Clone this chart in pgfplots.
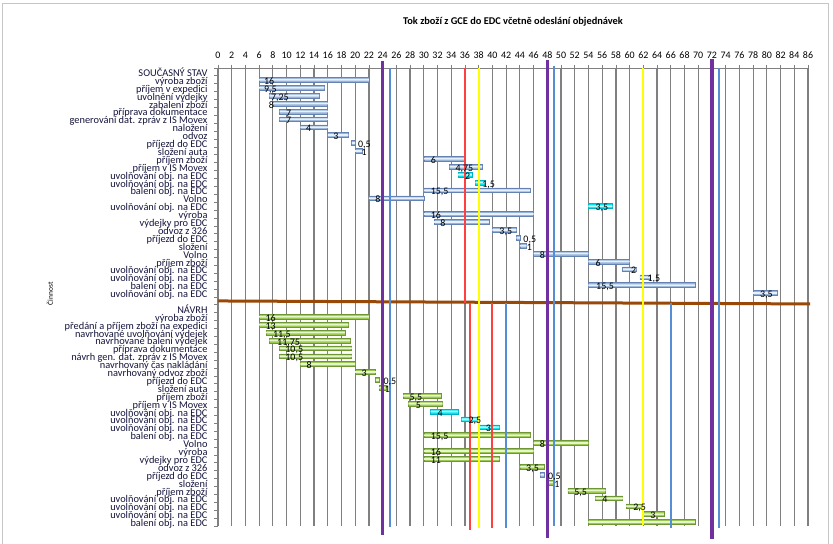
\documentclass[border=0pt]{standalone}
\usepackage{pgfplots}
\pgfplotsset{compat=1.18}
\usepackage{pgfplotstable}
\usepackage{fontspec}
\setmainfont{Carlito}

\definecolor{gridgray}{RGB}{128,128,128}
\definecolor{bEdge}{RGB}{149,179,215}
\definecolor{bMid}{RGB}{232,240,250}
\definecolor{bLine}{RGB}{100,130,180}
\definecolor{gEdge}{RGB}{155,200,80}
\definecolor{gMid}{RGB}{228,247,200}
\definecolor{gLine}{RGB}{110,150,50}
\definecolor{cEdge}{RGB}{0,228,240}
\definecolor{cMid}{RGB}{190,255,255}
\definecolor{cLine}{RGB}{0,178,200}
\definecolor{lpurple}{RGB}{112,48,160}
\definecolor{lblue}{RGB}{85,142,213}
\definecolor{lred}{RGB}{255,64,64}
\definecolor{lyellow}{RGB}{255,255,0}
\definecolor{lbrown}{RGB}{152,72,7}
\definecolor{labcol}{RGB}{20,20,60}

% blue (current state) bars: row, start, duration
\pgfplotstableread{
row start dur
2 6 16
3 6 9.5
4 7.5 7.25
5 8 8
6 9 7
7 9 7
8 12 4
9 16 3
10 19.5 0.5
11 20 1
12 30 6
13 33.75 4.75
16 30 15.5
17 22 8
19 30 16
20 31.5 8
21 40 3.5
22 43.5 0.5
23 44 1
24 46 8
25 54 6
26 59 2
27 61.5 1.5
28 54 15.5
29 78 3.5
52 47 0.5
}\bluebars

% green (proposal) bars
\pgfplotstableread{
row start dur
32 6 16
33 6 13
34 7 11.5
35 7.5 11.75
36 9 10.5
37 9 10.5
38 12 8
39 20 3
40 23 0.5
41 23.5 1
42 27 5.5
43 27.75 5
47 30 15.5
48 46 8
49 30 16
50 30 11
51 44 3.5
53 48 1
54 51 5.5
55 55 4
56 59.5 2.5
57 62 3
58 54 15.5
}\greenbars

% cyan bars
\pgfplotstableread{
row start dur
14 35 2
15 37.5 1.5
18 54 3.5
44 31 4
45 35.5 2.5
46 38 3
}\cyanbars

% duration labels
\pgfplotstableread{
row lx lab
2 6.7 16
3 6.7 9,5
4 7.7 7,25
5 7.4 8
6 9.9 7
7 9.9 7
8 12.8 4
9 16.8 3
10 20.4 0,5
11 20.9 1
12 31.0 6
13 34.6 4,75
14 36.0 2
15 38.5 1,5
16 31.0 15,5
17 22.9 8
18 55.0 3,5
19 31.0 16
20 32.4 8
21 41.0 3,5
22 44.5 0,5
23 45.0 1
24 46.9 8
25 55.0 6
26 60.2 2
27 62.6 1,5
28 55.1 15,5
29 79.0 3,5
32 6.9 16
33 6.9 13
34 8.0 11,5
35 8.6 11,75
36 9.8 10,5
37 9.8 10,5
38 12.9 8
39 20.9 3
40 24.1 0,5
41 24.3 1
42 27.9 5,5
43 28.8 5
44 32.0 4
45 36.5 2,5
46 39.0 3
47 31.0 15,5
48 46.9 8
49 31.0 16
50 31.0 11
51 44.9 3,5
52 48.1 0,5
53 49.0 1
54 51.9 5,5
55 56.0 4
56 60.5 2,5
57 63.0 3
}\labels

\pgfplotsset{gantt/.style={scale only axis, width=590bp, height=458bp,
  xmin=0, xmax=86, ymin=0.5, ymax=58.5}}

\begin{document}
\begin{tikzpicture}
\useasboundingbox (-218bp,-18bp) rectangle (615bp,526bp);
\draw[gray!45, line width=0.8bp] (-216bp,-40bp) -- (-216bp,522.7bp) -- (610bp,522.7bp) -- (610bp,-40bp);

% main axis with blue bars
\begin{axis}[gantt,
  xbar stacked, bar width=4.8bp,
  axis x line=top, axis y line=left,
  axis line style={-, draw=gridgray, line width=0.8bp},
  xtick={0,2,...,86}, minor xtick={0,2,...,86},
  ytick={1,...,58}, minor ytick={0.5,1.5,...,58.5},
  major tick length=0pt, minor tick length=3.5bp, tick align=outside,
  minor tick style={draw=gridgray, line width=0.8bp},
  xmajorgrids, major grid style={draw=gridgray, line width=1.2bp},
  /pgf/number format/assume math mode=true,
  xticklabel style={font=\fontsize{10}{11}\selectfont, yshift=6bp},
  yticklabel style={font=\fontsize{10.4}{11}\selectfont, text=labcol, inner ysep=0pt, text height=6bp, text depth=1.5bp, xshift=-7bp, yshift=-2.3bp},
  yticklabels={
    balení obj. na EDC,
    uvolňování obj. na EDC,
    uvolňování obj. na EDC,
    uvolňování obj. na EDC,
    příjem zboží,
    složení,
    příjezd do EDC,
    odvoz z 326,
    výdejky pro EDC,
    výroba,
    Volno,
    balení obj. na EDC,
    uvolňování obj. na EDC,
    uvolňování obj. na EDC,
    uvolňování obj. na EDC,
    příjem v IS Movex,
    příjem zboží,
    složení auta,
    příjezd do EDC,
    navrhovaný odvoz zboží,
    navrhovaný čas nakládání,
    návrh gen. dat. zpráv z IS Movex,
    příprava dokumentace,
    navrhované balení výdejek,
    navrhované uvolňování výdejek,
    předání a příjem zboží na expedici,
    výroba zboží,
    NÁVRH,
    {},
    uvolňování obj. na EDC,
    balení obj. na EDC,
    uvolňování obj. na EDC,
    uvolňování obj. na EDC,
    příjem zboží,
    Volno,
    složení,
    příjezd do EDC,
    odvoz z 326,
    výdejky pro EDC,
    výroba,
    uvolňování obj. na EDC,
    Volno,
    balení obj. na EDC,
    uvolňování obj. na EDC,
    uvolňování obj. na EDC,
    příjem v IS Movex,
    příjem zboží,
    složení auta,
    příjezd do EDC,
    odvoz,
    naložení,
    generování dat. zpráv z IS Movex,
    příprava dokumentace,
    zabalení zboží,
    uvolnění výdejky,
    příjem v expedici,
    výroba zboží,
    SOUČASNÝ STAV},
  ylabel={Činnost},
  every axis y label/.style={at={(axis description cs:-0.285,0.507)}, rotate=90, anchor=center, font=\fontsize{7.5}{8}\selectfont},
  title={Tok zboží z GCE do EDC včetně odeslání objednávek},
  every axis title/.style={at={(axis description cs:0.5,1)}, anchor=base, yshift=44bp, font=\bfseries\fontsize{10.4}{11}\selectfont},
]
\addplot[draw=none, fill=none, forget plot] table[x=start, y expr=59-\thisrow{row}] {\bluebars};
\addplot[draw=bLine, line width=0.6bp, fill=bEdge, forget plot] table[x=dur, y expr=59-\thisrow{row}] {\bluebars};
\end{axis}
% blue highlight
\begin{axis}[gantt, hide axis, xbar stacked, bar width=1.8bp]
\addplot[draw=none, fill=none, forget plot] table[x=start, y expr=59-\thisrow{row}] {\bluebars};
\addplot[draw=none, fill=bMid, forget plot] table[x=dur, y expr=59-\thisrow{row}] {\bluebars};
\end{axis}

% green bars
\begin{axis}[gantt, hide axis, xbar stacked, bar width=4.8bp]
\addplot[draw=none, fill=none, forget plot] table[x=start, y expr=59-\thisrow{row}] {\greenbars};
\addplot[draw=gLine, line width=0.6bp, fill=gEdge, forget plot] table[x=dur, y expr=59-\thisrow{row}] {\greenbars};
\end{axis}
\begin{axis}[gantt, hide axis, xbar stacked, bar width=1.8bp]
\addplot[draw=none, fill=none, forget plot] table[x=start, y expr=59-\thisrow{row}] {\greenbars};
\addplot[draw=none, fill=gMid, forget plot] table[x=dur, y expr=59-\thisrow{row}] {\greenbars};
\end{axis}

% cyan bars
\begin{axis}[gantt, hide axis, xbar stacked, bar width=4.8bp]
\addplot[draw=none, fill=none, forget plot] table[x=start, y expr=59-\thisrow{row}] {\cyanbars};
\addplot[draw=cLine, line width=0.6bp, fill=cEdge, forget plot] table[x=dur, y expr=59-\thisrow{row}] {\cyanbars};
\end{axis}
\begin{axis}[gantt, hide axis, xbar stacked, bar width=1.8bp]
\addplot[draw=none, fill=none, forget plot] table[x=start, y expr=59-\thisrow{row}] {\cyanbars};
\addplot[draw=none, fill=cMid, forget plot] table[x=dur, y expr=59-\thisrow{row}] {\cyanbars};
\end{axis}

% labels and marker lines
\begin{axis}[gantt, hide axis, clip=false]
\addplot[only marks, mark=*, mark size=0pt,
  scatter/use mapped color={draw=none, fill=none},
  mark options={draw=none, fill=none},
  nodes near coords, point meta=explicit symbolic,
  nodes near coords align=horizontal,
  every node near coord/.append style={anchor=west, inner sep=0pt, text=black,
    font=\fontsize{10}{11}\selectfont, text height=6.8bp, text depth=0bp, yshift=-1.2bp}]
  table[x=lx, y expr=59-\thisrow{row}, meta=lab] {\labels};
% separator between current state and proposal
\addplot[lbrown, line width=3bp] coordinates {(0,29.0) (86.3,28.62)};
% vertical marker lines
\addplot[lred, line width=2bp] coordinates {(36,58.5) (36,28.8)};
\addplot[lred, line width=2bp] coordinates {(36.7,28.8) (36.7,0.0)};
\addplot[lred, line width=2bp] coordinates {(40,28.8) (40,0.2)};
\addplot[lyellow, line width=2.2bp] coordinates {(38,58.5) (38,0.3)};
\addplot[lyellow, line width=2.2bp] coordinates {(62,58.5) (62,0.6)};
\addplot[lblue, line width=2bp] coordinates {(25,58.5) (25,0.42)};
\addplot[lblue, line width=2bp] coordinates {(49,58.7) (49,0.5)};
\addplot[lblue, line width=2bp] coordinates {(73,58.5) (73,0.25)};
\addplot[lblue, line width=2bp] coordinates {(42,28.8) (42,0.2)};
\addplot[lblue, line width=2bp] coordinates {(66,28.8) (66,0.2)};
\addplot[lpurple, line width=3.5bp] coordinates {(24,59.4) (24,-0.65)};
\addplot[lpurple, line width=3.5bp] coordinates {(48,59.45) (48,-1.0)};
\addplot[lpurple, line width=3.5bp] coordinates {(72,59.6) (72,-1.1)};
\end{axis}
\end{tikzpicture}
\end{document}
